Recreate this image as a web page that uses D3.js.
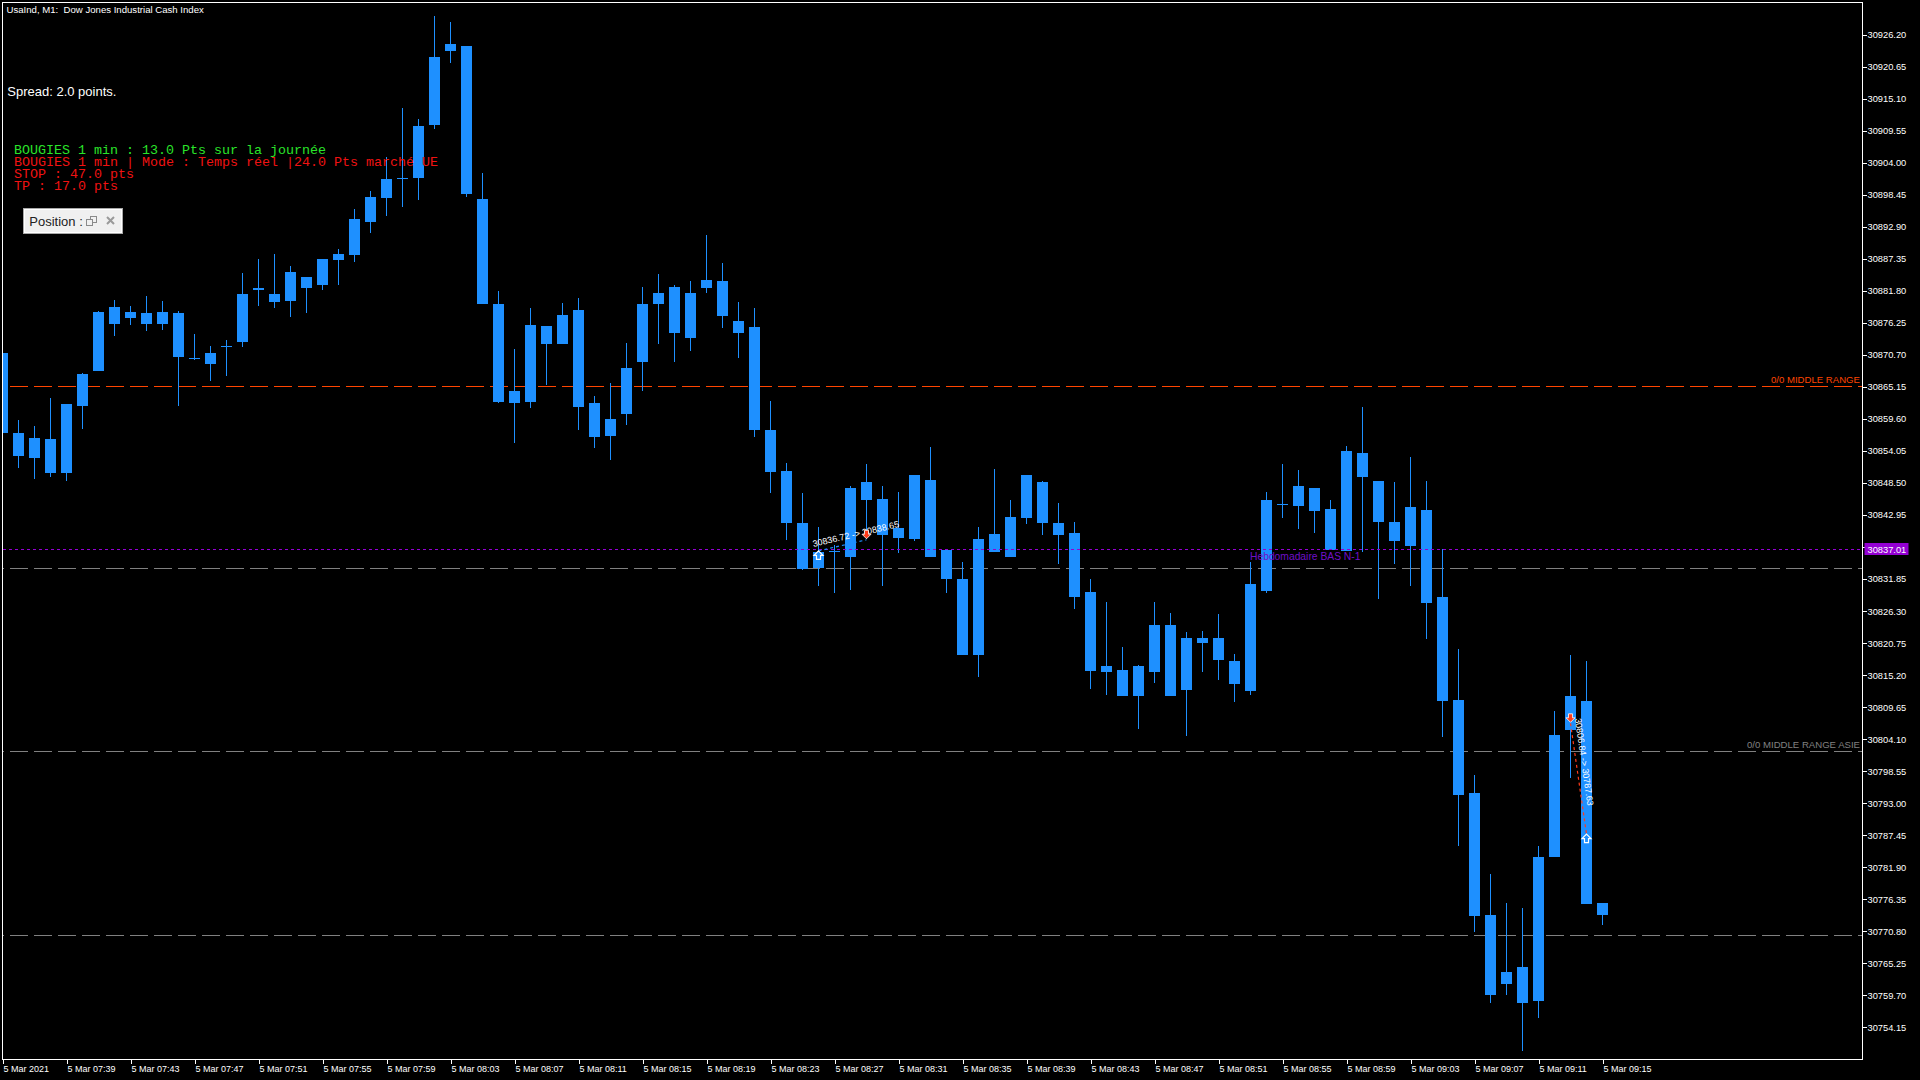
<!DOCTYPE html>
<html lang="fr">
<head>
<meta charset="utf-8">
<title>UsaInd, M1</title>
<script src="https://cdn.jsdelivr.net/npm/d3@7/dist/d3.min.js"></script>
<style>
html,body{margin:0;padding:0;background:#000;overflow:hidden;}
svg{display:block;}
</style>
</head>
<body>
<svg id="chart" width="1920" height="1080" xmlns="http://www.w3.org/2000/svg"></svg>
<script>
// ---------------- DATA ----------------
const times = [
"07:35","07:36","07:37","07:38","07:39","07:40","07:41","07:42","07:43","07:44",
"07:45","07:46","07:47","07:48","07:49","07:50","07:51","07:52","07:53","07:54",
"07:55","07:56","07:57","07:58","07:59","08:00","08:01","08:02","08:03","08:04",
"08:05","08:06","08:07","08:08","08:09","08:10","08:11","08:12","08:13","08:14",
"08:15","08:16","08:17","08:18","08:19","08:20","08:21","08:22","08:23","08:24",
"08:25","08:26","08:27","08:28","08:29","08:30","08:31","08:32","08:33","08:34",
"08:35","08:36","08:37","08:38","08:39","08:40","08:41","08:42","08:43","08:44",
"08:45","08:46","08:47","08:48","08:49","08:50","08:51","08:52","08:53","08:54",
"08:55","08:56","08:57","08:58","08:59","09:00","09:01","09:02","09:03","09:04",
"09:05","09:06","09:07","09:08","09:09","09:10","09:11","09:12","09:13","09:14",
"09:15"];

const open = [
30871.1,30857.1,30852.9,30856.1,30850.3,30861.9,30867.9,30876.0,30878.1,30878.0,
30876.1,30878.0,30870.2,30869.1,30872.1,30873.0,30881.9,30881.2,30880.1,30884.2,
30882.8,30887.2,30888.0,30893.7,30897.8,30901.3,30901.3,30910.5,30923.3,30924.3,
30897.7,30879.5,30862.4,30862.6,30875.7,30872.5,30878.5,30862.4,30856.6,30860.4,
30869.4,30879.5,30882.4,30873.7,30882.3,30883.5,30876.6,30875.5,30857.6,30850.6,
30841.5,30833.7,30836.6,30835.7,30848.6,30845.7,30840.7,30838.7,30849.0,30836.9,
30831.9,30818.7,30836.6,30835.6,30842.5,30848.6,30841.6,30839.8,30829.6,30815.7,
30816.0,30811.6,30815.7,30823.8,30812.6,30821.7,30821.7,30817.6,30812.5,30829.7,
30844.7,30844.5,30847.6,30843.9,30836.7,30853.6,30848.8,30841.7,30837.5,30843.8,
30828.7,30810.8,30794.7,30773.6,30761.6,30764.6,30758.7,30783.6,30805.7,30810.7,
30775.7];
const high = [
30872.0,30859.4,30858.3,30863.2,30862.1,30867.5,30878.3,30880.2,30879.1,30880.9,
30880.0,30878.3,30874.3,30872.3,30873.3,30884.9,30887.3,30888.1,30886.1,30884.2,
30887.3,30889.0,30895.9,30899.1,30905.0,30913.5,30911.5,30929.5,30928.4,30924.3,
30902.3,30881.7,30871.7,30878.8,30875.7,30879.7,30880.5,30863.6,30865.8,30872.8,
30882.4,30884.7,30882.8,30883.5,30891.4,30886.7,30879.8,30878.8,30862.7,30851.9,
30846.7,30840.9,30837.8,30848.0,30851.8,30848.0,30846.9,30849.9,30854.7,30836.9,
30834.8,30840.9,30850.9,30845.5,30849.9,30848.8,30845.0,30841.7,30831.9,30827.9,
30820.0,30817.0,30827.9,30826.0,30822.7,30822.9,30825.8,30818.9,30834.8,30846.9,
30851.7,30850.7,30847.6,30845.5,30854.9,30861.6,30848.8,30848.6,30853.0,30848.8,
30837.0,30819.8,30797.9,30780.7,30775.7,30774.8,30785.6,30809.0,30818.6,30817.6,
30775.7];
const low = [
30856.5,30851.1,30849.2,30849.6,30848.9,30857.9,30867.9,30874.0,30875.9,30874.9,
30875.0,30861.9,30869.8,30866.1,30867.0,30872.0,30879.1,30878.9,30877.2,30878.0,
30881.9,30882.8,30886.8,30891.8,30894.7,30896.3,30897.5,30909.8,30921.2,30898.0,
30879.5,30862.3,30855.5,30861.4,30865.4,30872.5,30857.6,30854.5,30852.4,30858.5,
30864.5,30872.5,30869.4,30871.3,30881.4,30875.4,30870.2,30856.4,30846.7,30838.6,
30833.4,30830.6,30829.5,30829.9,30838.8,30830.6,30836.4,30838.5,30835.6,30829.5,
30818.7,30814.9,30836.6,30835.6,30841.4,30839.5,30834.5,30826.6,30812.8,30811.7,
30811.6,30805.9,30813.8,30811.6,30804.7,30815.7,30814.3,30810.6,30811.8,30829.4,
30842.5,30840.6,30839.9,30836.9,30836.7,30836.6,30828.3,30834.4,30830.7,30821.4,
30804.5,30785.6,30770.6,30758.4,30759.7,30750.0,30755.7,30783.6,30797.4,30775.6,
30771.8];
const close = [
30857.1,30853.2,30856.3,30850.2,30862.1,30867.3,30878.2,30879.0,30877.0,30876.0,
30878.1,30870.3,30870.1,30871.1,30872.2,30881.2,30882.3,30879.9,30885.0,30882.2,
30887.3,30888.1,30894.2,30898.0,30901.1,30901.4,30910.4,30922.4,30924.5,30898.6,
30879.5,30862.6,30864.5,30875.9,30872.6,30877.6,30861.6,30856.4,30859.6,30868.4,
30879.5,30881.4,30874.5,30881.4,30883.6,30877.5,30874.5,30857.6,30850.4,30841.6,
30833.6,30836.6,30836.7,30847.6,30845.6,30839.5,30838.9,30849.9,30835.7,30831.8,
30818.7,30838.8,30839.7,30842.6,30849.9,30841.6,30839.5,30828.8,30815.9,30816.7,
30811.6,30816.7,30823.9,30811.6,30821.7,30820.7,30817.8,30813.6,30831.0,30845.5,
30844.8,30847.9,30843.6,30836.9,30854.0,30849.6,30841.7,30838.5,30844.4,30827.7,
30810.7,30794.5,30773.5,30759.7,30763.8,30758.4,30783.7,30804.8,30811.6,30775.6,
30773.7];

const priceTicks = [
30926.20,30920.65,30915.10,30909.55,30904.00,30898.45,30892.90,30887.35,
30881.80,30876.25,30870.70,30865.15,30859.60,30854.05,30848.50,30842.95,
30837.40,30831.85,30826.30,30820.75,30815.20,30809.65,30804.10,30798.55,
30793.00,30787.45,30781.90,30776.35,30770.80,30765.25,30759.70,30754.15];

const timeTickTimes = ["07:35","07:39","07:43","07:47","07:51","07:55","07:59","08:03","08:07",
"08:11","08:15","08:19","08:23","08:27","08:31","08:35","08:39","08:43","08:47","08:51",
"08:55","08:59","09:03","09:07","09:11","09:15"];
const timeTickLabels = ["5 Mar 2021","5 Mar 07:39","5 Mar 07:43","5 Mar 07:47","5 Mar 07:51",
"5 Mar 07:55","5 Mar 07:59","5 Mar 08:03","5 Mar 08:07","5 Mar 08:11","5 Mar 08:15",
"5 Mar 08:19","5 Mar 08:23","5 Mar 08:27","5 Mar 08:31","5 Mar 08:35","5 Mar 08:39",
"5 Mar 08:43","5 Mar 08:47","5 Mar 08:51","5 Mar 08:55","5 Mar 08:59","5 Mar 09:03",
"5 Mar 09:07","5 Mar 09:11","5 Mar 09:15"];

// horizontal range levels
const levelPrices = [30865.30, 30833.70, 30802.04, 30770.20];
const levelLabels = ["0/0 MIDDLE RANGE", "", "0/0 MIDDLE RANGE ASIE", ""];
const levelColors = ["#FF4500", "#808080", "#808080", "#808080"];

// weekly low line
const weeklyLowPrice = 30837.01;
const weeklyLowLabel = "Hebdomadaire BAS N-1";
const weeklyLowLabelTime = "08:53";

// trades
const tradeTypes = ["buy", "sell"];
const tradeOpenTimes = ["08:26", "09:13"];
const tradeOpenPrices = [30836.72, 30806.84];
const tradeCloseTimes = ["08:29", "09:14"];
const tradeClosePrices = [30838.65, 30787.63];

// texts
const titleText = "UsaInd, M1:  Dow Jones Industrial Cash Index";
const spreadText = "Spread: 2.0 points.";
const infoLines = [
  "BOUGIES 1 min : 13.0 Pts sur la journée",
  "BOUGIES 1 min | Mode : Temps réel |24.0 Pts marché UE",
  "STOP : 47.0 pts",
  "TP : 17.0 pts"];
const infoColors = ["#2ae42a", "#f01212", "#f01212", "#f01212"];

// ---------------- DRAW ----------------
const SANS = "'Liberation Sans', Arial, sans-serif";
const MONO = "'Liberation Mono', 'Courier New', monospace";
const svg = d3.select("#chart").style("font-family", SANS);
const frameL = 2.5, frameR = 1862.5, frameT = 2.5, frameB = 1059.5;

svg.append("rect").attr("width", 1920).attr("height", 1080).attr("fill", "#000");

const x = d3.scalePoint().domain(times).range([2.5, 1602.5]);
const y = d3.scaleLinear().domain([30748.66, 30931.85]).range([1059, 2]);

const defs = svg.append("defs");
defs.append("clipPath").attr("id", "plotClip")
  .append("rect").attr("x", 3).attr("y", 3).attr("width", frameR - 3).attr("height", frameB - 3);

const plot = svg.append("g").attr("clip-path", "url(#plotClip)");

// background levels (behind candles)
const lv = plot.append("g");
levelPrices.forEach((p, i) => {
  const yy = Math.round(y(p)) + 0.5;
  lv.append("line")
    .attr("x1", frameL).attr("x2", frameR).attr("y1", yy).attr("y2", yy)
    .attr("stroke", levelColors[i]).attr("stroke-width", 1)
    .attr("stroke-dasharray", "18,6").attr("stroke-dashoffset", 16.5)
    .attr("shape-rendering", "crispEdges");
});

// candles
const idx = d3.range(times.length);
const candleColor = "#1E90FF";
const cg = plot.append("g").attr("shape-rendering", "crispEdges");
cg.selectAll("rect.wick").data(idx).join("rect")
  .attr("class", "wick")
  .attr("x", i => x(times[i]) - 0.5)
  .attr("width", 1)
  .attr("y", i => y(high[i]))
  .attr("height", i => Math.max(1, y(low[i]) - y(high[i])))
  .attr("fill", candleColor);
cg.selectAll("rect.body").data(idx).join("rect")
  .attr("class", "body")
  .attr("x", i => x(times[i]) - 5.5)
  .attr("width", 11)
  .attr("y", i => y(Math.max(open[i], close[i])))
  .attr("height", i => Math.max(1, y(Math.min(open[i], close[i])) - y(Math.max(open[i], close[i]))))
  .attr("fill", candleColor);

// weekly low (foreground)
const wy = Math.round(y(weeklyLowPrice)) + 0.5;
plot.append("line")
  .attr("x1", frameL).attr("x2", frameR).attr("y1", wy).attr("y2", wy)
  .attr("stroke", "#9400D3").attr("stroke-width", 1)
  .attr("stroke-dasharray", "3,3").attr("shape-rendering", "crispEdges");
plot.append("text")
  .attr("x", x(weeklyLowLabelTime) - 0.5).attr("y", wy + 10.5)
  .attr("font-size", 10.3).attr("fill", "#7010c8")
  .text(weeklyLowLabel);

// level labels
levelPrices.forEach((p, i) => {
  if (!levelLabels[i]) return;
  plot.append("text")
    .attr("x", 1860).attr("y", Math.round(y(p)) - 3)
    .attr("text-anchor", "end").attr("font-size", 9.6)
    .attr("fill", levelColors[i]).text(levelLabels[i]);
});

// trades
const tg = plot.append("g");
const upArrow = "M0,0 L4.5,4.5 L2,4.5 L2,8.5 L-2,8.5 L-2,4.5 L-4.5,4.5 Z";
const downArrow = "M0,0 L4.5,-4.5 L2,-4.5 L2,-8.5 L-2,-8.5 L-2,-4.5 L-4.5,-4.5 Z";
function drawArrow(kind, cx, py) {
  if (kind === "up") {
    tg.append("path").attr("d", upArrow)
      .attr("transform", `translate(${cx},${py})`)
      .attr("fill", "none").attr("stroke", "#fff").attr("stroke-width", 1.2);
  } else {
    tg.append("path").attr("d", downArrow)
      .attr("transform", `translate(${cx},${py - 1})`)
      .attr("fill", "#ff3b1a").attr("stroke", "#fff").attr("stroke-width", 0.8);
  }
}
tradeTypes.forEach((t, k) => {
  const x0 = x(tradeOpenTimes[k]), y0 = y(tradeOpenPrices[k]);
  const x1 = x(tradeCloseTimes[k]), y1 = y(tradeClosePrices[k]);
  tg.append("line").attr("x1", x0).attr("y1", y0).attr("x2", x1).attr("y2", y1)
    .attr("stroke", t === "buy" ? "#1E90FF" : "#ff3b1a")
    .attr("stroke-width", 1.2).attr("stroke-dasharray", "3,3");
  const ang = Math.atan2(y1 - y0, x1 - x0) * 180 / Math.PI;
  tg.append("text")
    .attr("transform", `translate(${x0},${y0}) rotate(${ang})`)
    .attr("x", -4).attr("y", -5)
    .attr("font-size", 9).attr("fill", "#fff")
    .text(`${tradeOpenPrices[k].toFixed(2)} -> ${tradeClosePrices[k].toFixed(2)}`);
  drawArrow(t === "buy" ? "up" : "down", x0, y0);
  drawArrow(t === "buy" ? "down" : "up", x1, y1);
});

// frame
svg.append("rect")
  .attr("x", frameL).attr("y", frameT)
  .attr("width", frameR - frameL).attr("height", frameB - frameT)
  .attr("fill", "none").attr("stroke", "#fff").attr("stroke-width", 1)
  .attr("shape-rendering", "crispEdges");

// price axis
const ya = svg.append("g").attr("transform", `translate(${frameR},0)`)
  .call(d3.axisRight(y).tickValues(priceTicks).tickSize(4).tickPadding(1)
    .tickFormat(d3.format(".2f")));
ya.attr("font-family", null).attr("font-size", null);
ya.select(".domain").remove();
ya.selectAll(".tick line").attr("stroke", "#fff").attr("shape-rendering", "crispEdges");
ya.selectAll(".tick text").attr("fill", "#fff").attr("font-size", 9.3);

// time axis
const xa = svg.append("g").attr("transform", `translate(0,${frameB})`)
  .call(d3.axisBottom(x).tickValues(timeTickTimes).tickSize(4)
    .tickFormat((d, i) => timeTickLabels[i]));
xa.attr("font-family", null).attr("font-size", null);
xa.select(".domain").remove();
xa.selectAll(".tick line").attr("stroke", "#fff").attr("shape-rendering", "crispEdges");
xa.selectAll(".tick text").attr("fill", "#fff").attr("font-size", 9)
  .attr("text-anchor", "start").attr("x", 0.5).attr("y", 12.5).attr("dy", 0);

// current weekly-low price tag on axis
const tagY = y(weeklyLowPrice);
svg.append("rect").attr("x", 1864.5).attr("y", Math.round(tagY) - 6)
  .attr("width", 44).attr("height", 12).attr("fill", "#9400D3");
svg.append("text").attr("x", 1867.5).attr("y", Math.round(tagY) + 3.5)
  .attr("font-size", 9.3).attr("fill", "#fff").text(weeklyLowPrice.toFixed(2));

// texts
svg.append("text").attr("x", 6.5).attr("y", 13).attr("font-size", 9.6)
  .attr("fill", "#fff").style("white-space", "pre").text(titleText);
svg.append("text").attr("x", 7.3).attr("y", 96).attr("font-size", 13)
  .attr("fill", "#fff").text(spreadText);
infoLines.forEach((t, i) => {
  svg.append("text").attr("x", 14).attr("y", 154.3 + 12 * i)
    .style("font-family", MONO)
    .attr("font-size", 13.33).attr("fill", infoColors[i])
    .style("white-space", "pre").text(t);
});

// Position panel
const pp = svg.append("g");
pp.append("rect").attr("x", 23.5).attr("y", 208.5).attr("width", 99).attr("height", 25)
  .attr("fill", "#f0f0f0").attr("stroke", "#a9a9a9").attr("shape-rendering", "crispEdges");
pp.append("rect").attr("x", 24.5).attr("y", 209.5).attr("width", 97).attr("height", 23)
  .attr("fill", "none").attr("stroke", "#ffffff").attr("shape-rendering", "crispEdges");
pp.append("text").attr("x", 29.3).attr("y", 226).attr("font-size", 13)
  .attr("fill", "#222").text("Position :");
pp.append("rect").attr("x", 90.5).attr("y", 216.5).attr("width", 6).attr("height", 6)
  .attr("fill", "#f0f0f0").attr("stroke", "#8a8a8a").attr("shape-rendering", "crispEdges");
pp.append("rect").attr("x", 86.5).attr("y", 219.5).attr("width", 6).attr("height", 6)
  .attr("fill", "#f0f0f0").attr("stroke", "#8a8a8a").attr("shape-rendering", "crispEdges");
pp.append("path").attr("d", "M107,217 L114,224 M114,217 L107,224")
  .attr("stroke", "#9a9a9a").attr("stroke-width", 2);
</script>
</body>
</html>
